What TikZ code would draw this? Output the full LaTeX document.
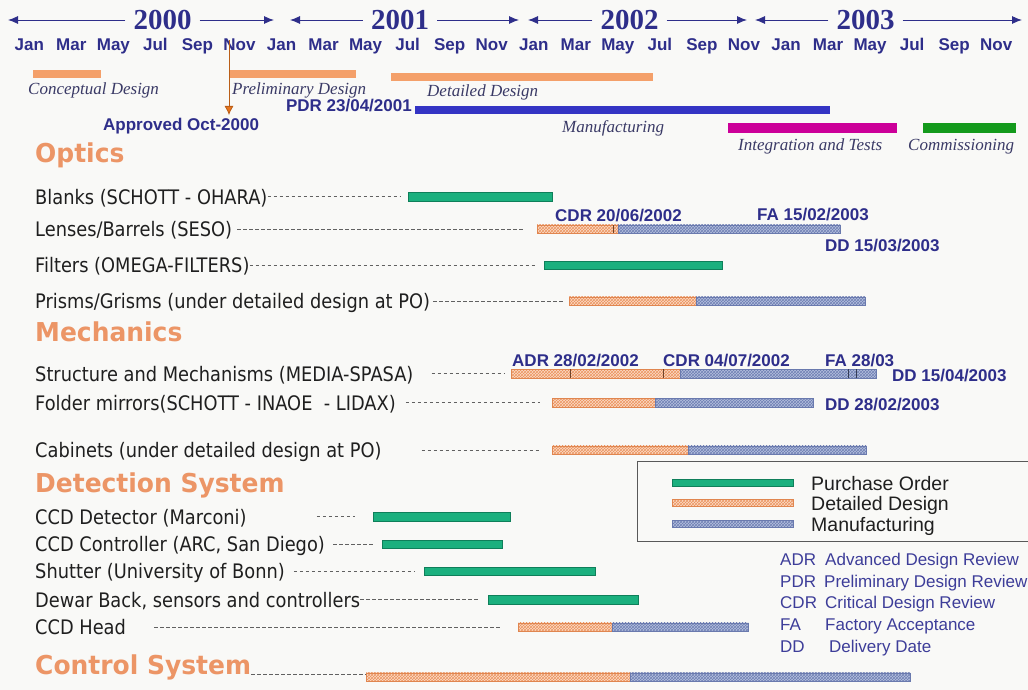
\documentclass[tikz,border=0pt]{standalone}
\usepackage{fontspec}
\setmainfont{Liberation Serif}
\setsansfont{Liberation Sans}
\newfontfamily\itemfont[FakeStretch=0.89]{DejaVu Sans}
\newfontfamily\headfont[FakeStretch=0.96]{DejaVu Sans}
\usetikzlibrary{arrows.meta,positioning,patterns}

\definecolor{bgcol}{HTML}{F9F9F7}
\definecolor{navy}{HTML}{2E2E8A}
\definecolor{captext}{HTML}{3A3A66}
\definecolor{abbrcol}{HTML}{3D3D99}
\definecolor{headorange}{HTML}{EC9566}
\definecolor{phaseorange}{HTML}{F4A06A}
\definecolor{pdrblue}{HTML}{3434C4}
\definecolor{intmagenta}{HTML}{CC0099}
\definecolor{commgreen}{HTML}{149A1C}
\definecolor{apporange}{HTML}{E8761E}
\definecolor{pogreen}{HTML}{1BB07E}
\definecolor{poedge}{HTML}{0F7F5A}
\definecolor{ddfill}{HTML}{FBDCC6}
\definecolor{ddhatch}{HTML}{EC9460}
\definecolor{ddedge}{HTML}{E08650}
\definecolor{mffill}{HTML}{B4C0DE}
\definecolor{mfhatch}{HTML}{7080B4}
\definecolor{mfedge}{HTML}{6A7AAE}

\begin{document}
\begin{tikzpicture}[
  x=1pt, y=-1pt,
  year/.style={font=\rmfamily\bfseries\fontsize{29}{32}\selectfont, text=navy, inner sep=8pt},
  yr/.style={draw=navy, line width=0.9pt, -{Latex[length=10pt,width=8pt]}},
  month/.style={font=\sffamily\bfseries\fontsize{17}{20}\selectfont, text=navy, anchor=base, inner sep=0pt},
  milestone/.style={font=\sffamily\bfseries\fontsize{17}{20}\selectfont, text=navy, anchor=base west, inner sep=0pt},
  phase/.style={rectangle, inner sep=0pt, outer sep=0pt, minimum height=8pt, anchor=west},
  phaselbl/.style={font=\rmfamily\itshape\fontsize{17}{20}\selectfont, text=captext, anchor=base west, inner sep=0pt},
  approve/.style={draw=apporange!80!black, line width=0.8pt, -{Latex[length=9pt,width=9pt,fill=apporange]}},
  head/.style={font=\headfont\bfseries\fontsize{26}{30}\selectfont, text=headorange, anchor=base west, inner sep=0pt},
  item/.style={font=\itemfont\fontsize{20}{24}\selectfont, text=black!88, anchor=west, inner sep=0pt, text height=15pt, text depth=0pt},
  lead/.style={draw=black!62, line width=0.7pt, dash pattern=on 3.5pt off 2.5pt},
  bar/.style={rectangle, inner sep=0pt, outer sep=0pt, minimum height=8.5pt, anchor=west, line width=0.5pt},
  po/.style={bar, fill=pogreen, draw=poedge},
  dd/.style={bar, draw=ddedge, preaction={fill=ddfill}, pattern=crosshatch, pattern color=ddhatch},
  mf/.style={bar, draw=mfedge, preaction={fill=mffill}, pattern=crosshatch, pattern color=mfhatch},
  ddtick/.style={draw=ddedge!50!black, line width=0.8pt},
  mftick/.style={draw=mfedge!50!black, line width=0.8pt},
  legtext/.style={font=\sffamily\fontsize{19.5}{22}\selectfont, text=black!88, inner sep=0pt, text height=14pt, text depth=0pt},
  abbr/.style={font=\sffamily\fontsize{17}{20}\selectfont, text=abbrcol, anchor=base west, inner sep=0pt}
]
\fill[bgcol] (0,0) rectangle (1028,690);
\useasboundingbox (0,0) rectangle (1028,690);

% years and months
\foreach \yr/\cx/\lt/\rt in {2000/162.5/8/274, 2001/400/290/519, 2002/629.5/528/747, 2003/865.5/755/1022} {
  \node[year] (y\yr) at (\cx,20) {\yr};
  \coordinate (l\yr) at (\lt,20);
  \coordinate (r\yr) at (\rt,20);
  \draw[yr] (y\yr.west) -- (l\yr);
  \draw[yr] (y\yr.east) -- (r\yr);
}
\foreach \mon [count=\i from 0] in {Jan,Mar,May,Jul,Sep,Nov,Jan,Mar,May,Jul,Sep,Nov,Jan,Mar,May,Jul,Sep,Nov,Jan,Mar,May,Jul,Sep,Nov}
  \node[month] (m\i) at ({29.3+42.04*\i},51) {\mon};

% project phases
\node[phase, fill=phaseorange, minimum width=68pt] (concept) at (33,74) {};
\node[phaselbl] (conceptlbl) at (28,95) {Conceptual Design};
\node[phase, fill=phaseorange, minimum width=126pt] (prelim) at (230,74) {};
\node[phaselbl] (prelimlbl) at (232,95) {Preliminary Design};
\node[phase, fill=phaseorange, minimum width=262pt] (detail) at (391,77) {};
\node[phaselbl] (detaillbl) at (427,97) {Detailed Design};
\node[phase, fill=pdrblue, minimum width=415pt] (manuf) at (415,110.5) {};
\node[milestone, anchor=base east] (pdr) at (412,112) {PDR 23/04/2001};
\node[phaselbl] (manuflbl) at (562,132) {Manufacturing};
\node[phase, fill=intmagenta, minimum width=169pt, minimum height=10pt] (integ) at (728,128) {};
\node[phaselbl] (integlbl) at (738,150) {Integration and Tests};
\node[phase, fill=commgreen, minimum width=93pt, minimum height=10pt] (comm) at (923,128) {};
\node[phaselbl] (commlbl) at (908,150) {Commissioning};

% approval
\coordinate (oct) at (229,40);
\coordinate (apptip) at (229,115);
\node[milestone] (approved) at (103,131) {Approved Oct-2000};
\draw[approve] (oct) -- (apptip);

% optics
\node[head] (optics) at (35,162) {Optics};
\node[item] (blanks) at (35,196.5) {Blanks (SCHOTT - OHARA)};
\node[po, minimum width=144pt] (blanksPO) at (408,196.5) {};
\draw[lead] (blanks.east) -- ([xshift=-8pt]blanksPO.west);

\node[item] (lenses) at (35,229) {Lenses/Barrels (SESO)};
\node[dd, minimum width=81pt] (lensesDes) at (537,229) {};
\node[mf, minimum width=222pt, right=0pt of lensesDes] (lensesMan) {};
\draw[lead] ([xshift=5pt]lenses.east) -- ([xshift=-12pt]lensesDes.west);
\draw[ddtick] (613,225) -- (613,233);
\node[milestone] (lensesCDR) at (555,221) {CDR 20/06/2002};
\node[milestone] (lensesFA) at (757,220) {FA 15/02/2003};
\node[milestone] (lensesDD) at (825,251) {DD 15/03/2003};

\node[item] (filters) at (35,265) {Filters (OMEGA-FILTERS)};
\node[po, minimum width=178pt] (filtersPO) at (544,265) {};
\draw[lead] (filters.east) -- ([xshift=-9pt]filtersPO.west);

\node[item] (prisms) at (35,301) {Prisms/Grisms (under detailed design at PO)};
\node[dd, minimum width=127pt] (prismsDes) at (569,301) {};
\node[mf, minimum width=169pt, right=0pt of prismsDes] (prismsMan) {};
\draw[lead] ([xshift=3pt]prisms.east) -- ([xshift=-6pt]prismsDes.west);

% mechanics
\node[head] (mech) at (35,341) {Mechanics};
\node[item] (struct) at (35,373.5) {Structure and Mechanisms (MEDIA-SPASA)};
\node[dd, minimum width=169pt] (structDes) at (511,373.5) {};
\node[mf, minimum width=196pt, right=0pt of structDes] (structMan) {};
\draw[lead] ([xshift=18pt]struct.east) -- ([xshift=-6pt]structDes.west);
\draw[ddtick] (570,369) -- (570,378);
\draw[ddtick] (663,369) -- (663,378);
\draw[mftick] (848,369) -- (848,378);
\draw[mftick] (856,369) -- (856,378);
\node[milestone] (structADR) at (512,366) {ADR 28/02/2002};
\node[milestone] (structCDR) at (663,366) {CDR 04/07/2002};
\node[milestone] (structFA) at (825,366) {FA 28/03};
\node[milestone] (structDD) at (892,381) {DD 15/04/2003};

\node[item] (folder) at (35,402.5) {Folder mirrors(SCHOTT - INAOE\ \ - LIDAX)};
\node[dd, minimum width=103pt] (folderDes) at (552,402.5) {};
\node[mf, minimum width=158pt, right=0pt of folderDes] (folderMan) {};
\draw[lead] ([xshift=10pt]folder.east) -- ([xshift=-12pt]folderDes.west);
\node[milestone] (folderDD) at (825,410) {DD 28/02/2003};

\node[item] (cabinets) at (35,450) {Cabinets (under detailed design at PO)};
\node[dd, minimum width=136pt] (cabinetsDes) at (552,450) {};
\node[mf, minimum width=178pt, right=0pt of cabinetsDes] (cabinetsMan) {};
\draw[lead] ([xshift=40pt]cabinets.east) -- ([xshift=-12pt]cabinetsDes.west);

% detection system
\node[head] (detect) at (35,492) {Detection System};
\node[item] (ccddet) at (35,516.5) {CCD Detector (Marconi)};
\node[po, minimum width=137pt] (ccddetPO) at (373,516.5) {};
\draw[lead] ([xshift=70pt]ccddet.east) -- ([xshift=-18pt]ccddetPO.west);

\node[item] (ccdctrl) at (35,544) {CCD Controller (ARC, San Diego)};
\node[po, minimum width=120pt] (ccdctrlPO) at (382,544) {};
\draw[lead] ([xshift=8pt]ccdctrl.east) -- ([xshift=-9pt]ccdctrlPO.west);

\node[item] (shutter) at (35,571) {Shutter (University of Bonn)};
\node[po, minimum width=171pt] (shutterPO) at (424,571) {};
\draw[lead] ([xshift=9pt]shutter.east) -- ([xshift=-9pt]shutterPO.west);

\node[item] (dewar) at (35,599.5) {Dewar Back, sensors and controllers};
\node[po, minimum width=150pt] (dewarPO) at (488,599.5) {};
\draw[lead] (dewar.east) -- ([xshift=-9pt]dewarPO.west);

\node[item] (ccdhead) at (35,627) {CCD Head};
\node[dd, minimum width=94pt] (ccdheadDes) at (518,627) {};
\node[mf, minimum width=136pt, right=0pt of ccdheadDes] (ccdheadMan) {};
\draw[lead] ([xshift=28pt]ccdhead.east) -- ([xshift=-18pt]ccdheadDes.west);

% control system
\node[head] (control) at (35,674) {Control System};
\node[dd, minimum width=264pt] (controlDes) at (366,677) {};
\node[mf, minimum width=280pt, right=0pt of controlDes] (controlMan) {};
\draw[lead] (control.base east) -- (control.base east -| controlDes.west);

% legend
\draw[black!65, line width=0.8pt] (1030,461) -- (637,461) -- (637,541) -- (1030,541);
\node[po, minimum width=121pt, minimum height=7pt] (legPO) at (672,483) {};
\node[dd, minimum width=121pt, minimum height=7pt] (legDes) at (672,503) {};
\node[mf, minimum width=121pt, minimum height=7pt] (legMan) at (672,524) {};
\node[legtext, right=18pt of legPO] (legPOtxt) {Purchase Order};
\node[legtext, right=18pt of legDes] (legDestxt) {Detailed Design};
\node[legtext, right=18pt of legMan] (legMantxt) {Manufacturing};

% abbreviations
\node[abbr] (adr) at (780,565) {ADR};
\node[abbr] (adrtxt) at (825,565) {Advanced Design Review};
\node[abbr] (pdrab) at (780,587) {PDR};
\node[abbr] (pdrtxt) at (824,587) {Preliminary Design Review};
\node[abbr] (cdr) at (780,608) {CDR};
\node[abbr] (cdrtxt) at (825,608) {Critical Design Review};
\node[abbr] (fa) at (780,630) {FA};
\node[abbr] (fatxt) at (825,630) {Factory Acceptance};
\node[abbr] (dd) at (780,652) {DD};
\node[abbr] (ddtxt) at (829,652) {Delivery Date};

\end{tikzpicture}
\end{document}
